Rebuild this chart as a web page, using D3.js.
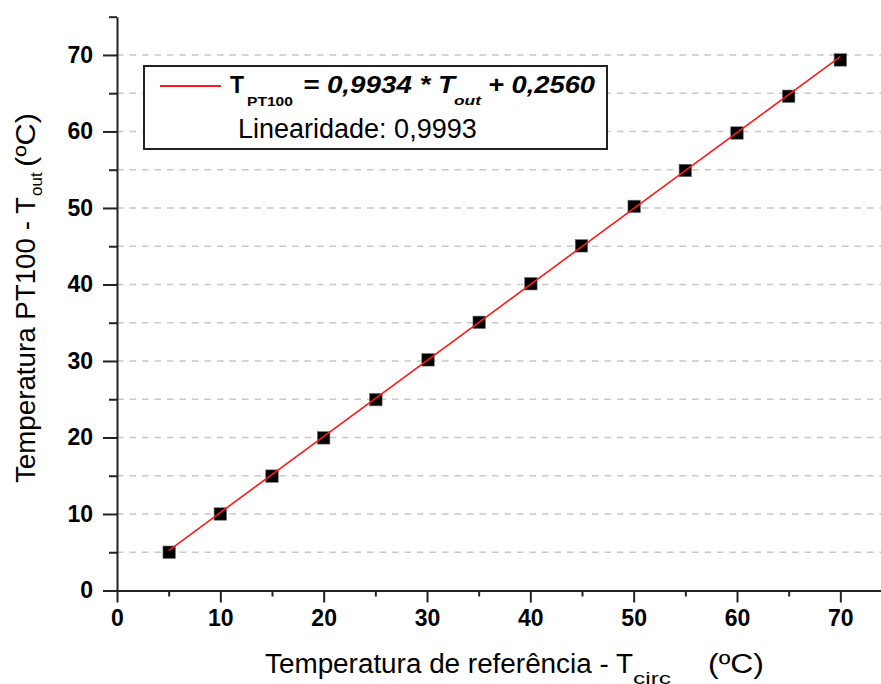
<!DOCTYPE html>
<html>
<head>
<meta charset="utf-8">
<script src="https://cdn.jsdelivr.net/npm/d3@7"></script>
<style>
  html, body { margin: 0; padding: 0; background: #fff; }
  svg { display: block; font-family: "Liberation Sans", Arial, sans-serif; }
</style>
</head>
<body>
<svg id="chart" width="881" height="684"></svg>
<script>
// Reference temperature (circulator) vs PT100 reading, both in ºC
const refTemps   = [5.05, 10.0, 15.0, 20.0, 25.05, 30.1, 35.05, 40.05, 44.95, 50.05, 55.0, 60.0, 65.0, 70.0];
const pt100Temps = [5.0, 10.0, 14.95, 19.95, 24.95, 30.15, 35.05, 40.1, 45.05, 50.2, 54.9, 59.8, 64.6, 69.35];

// Linear fit reported in the legend
const fitSlope = 0.9934;
const fitIntercept = 0.2560;
const fitRange = [5, 70];
const linearity = "0,9993";

const xDomain = [0, 75];
const yDomain = [0, 75];
const xMajorTicks = [0, 10, 20, 30, 40, 50, 60, 70];
const yMajorTicks = [0, 10, 20, 30, 40, 50, 60, 70];
const minorTicks = [5, 15, 25, 35, 45, 55, 65, 75];
const gridValues = [5, 10, 15, 20, 25, 30, 35, 40, 45, 50, 55, 60, 65, 70];

(function draw() {
  const svg = d3.select("#chart");
  const W = 881;
  const mLeft = 117, mTop = 16.7, plotW = 775, plotH = 573.8;
  const x = d3.scaleLinear().domain(xDomain).range([mLeft, mLeft + plotW]);
  const y = d3.scaleLinear().domain(yDomain).range([mTop + plotH, mTop]);
  const axisColor = "#222";

  // horizontal dashed grid
  svg.append("g").selectAll("line").data(gridValues).join("line")
    .attr("x1", x(0)).attr("x2", W)
    .attr("y1", d => y(d)).attr("y2", d => y(d))
    .attr("stroke", "#c8c8c8").attr("stroke-width", 1.6)
    .attr("stroke-dasharray", "6.5,6");

  // axes
  const styleAxis = g => {
    g.select(".domain").attr("stroke", axisColor).attr("stroke-width", 2);
    g.selectAll(".tick line").attr("stroke", axisColor).attr("stroke-width", 2);
    g.selectAll(".tick text").attr("fill", "#000")
      .style("font-size", "23px").style("font-weight", "bold")
      .style("font-family", "'Liberation Sans', Arial, sans-serif");
  };

  const xAxis = svg.append("g").attr("transform", `translate(0,${y(0)})`)
    .call(d3.axisBottom(x).tickValues(xMajorTicks).tickSize(12).tickPadding(6).tickSizeOuter(0).tickFormat(d3.format("d")))
    .call(styleAxis);
  xAxis.selectAll(".tick text").attr("dy", "0.71em").attr("y", 19);

  svg.append("g").attr("transform", `translate(0,${y(0)})`)
    .call(d3.axisBottom(x).tickValues(minorTicks).tickSize(6).tickSizeOuter(0).tickFormat(""))
    .call(g => g.select(".domain").remove())
    .call(g => g.selectAll(".tick line").attr("stroke", axisColor).attr("stroke-width", 2));

  svg.append("g").attr("transform", `translate(${x(0)},0)`)
    .call(d3.axisLeft(y).tickValues(yMajorTicks).tickSize(14).tickPadding(10).tickSizeOuter(0).tickFormat(d3.format("d")))
    .call(styleAxis);

  svg.append("g").attr("transform", `translate(${x(0)},0)`)
    .call(d3.axisLeft(y).tickValues(minorTicks).tickSize(8).tickSizeOuter(0).tickFormat(""))
    .call(g => g.select(".domain").remove())
    .call(g => g.selectAll(".tick line").attr("stroke", axisColor).attr("stroke-width", 2));

  // data markers
  const pts = refTemps.map((v, i) => ({ x: v, y: pt100Temps[i] }));
  const sq = 12.5;
  svg.append("g").selectAll("rect").data(pts).join("rect")
    .attr("x", d => x(d.x) - sq / 2).attr("y", d => y(d.y) - sq / 2)
    .attr("width", sq).attr("height", sq)
    .attr("fill", "#000").attr("stroke", "#777").attr("stroke-width", 0.6);

  // fitted line
  const fit = fitRange.map(v => ({ x: v, y: fitSlope * v + fitIntercept }));
  svg.append("path").datum(fit)
    .attr("d", d3.line().x(d => x(d.x)).y(d => y(d.y)))
    .attr("stroke", "#ff1a1a").attr("stroke-width", 1.6).attr("fill", "none");

  // legend box
  const lg = svg.append("g");
  lg.append("rect").attr("x", 144).attr("y", 66).attr("width", 463).attr("height", 83)
    .attr("fill", "#fff").attr("stroke", axisColor).attr("stroke-width", 2);
  lg.append("line").attr("x1", 160).attr("x2", 221).attr("y1", 86).attr("y2", 86)
    .attr("stroke", "#ff1a1a").attr("stroke-width", 1.8);

  const fmt = v => v.toFixed(4).replace(".", ",");
  const eq = lg.append("text").attr("fill", "#000").style("font-weight", "bold");
  eq.append("tspan").attr("x", 230).attr("y", 93).style("font-size", "23px").text("T");
  eq.append("tspan").attr("x", 247).attr("y", 106).style("font-size", "12.5px")
    .attr("textLength", 46).attr("lengthAdjust", "spacingAndGlyphs").text("PT100");
  eq.append("tspan").attr("x", 303).attr("y", 93).style("font-size", "23px").style("font-style", "italic")
    .attr("textLength", 152).attr("lengthAdjust", "spacingAndGlyphs").text(`= ${fmt(fitSlope)} * T`);
  eq.append("tspan").attr("x", 454).attr("y", 105).style("font-size", "13px").style("font-style", "italic")
    .attr("textLength", 27).attr("lengthAdjust", "spacingAndGlyphs").text("out");
  eq.append("tspan").attr("x", 488).attr("y", 93).style("font-size", "23px").style("font-style", "italic")
    .attr("textLength", 107).attr("lengthAdjust", "spacingAndGlyphs").text(`+ ${fmt(fitIntercept)}`);

  lg.append("text").attr("x", 238).attr("y", 137.5).attr("fill", "#000")
    .style("font-size", "27px").text(`Linearidade: ${linearity}`);

  // x axis title (subscript sits low, at the lower edge)
  const xt = svg.append("text").attr("fill", "#000").style("font-size", "27px");
  xt.append("tspan").attr("x", 265).attr("y", 673)
    .attr("textLength", 368).attr("lengthAdjust", "spacingAndGlyphs").text("Temperatura de referência - T");
  xt.append("tspan").attr("x", 633).attr("y", 684).style("font-size", "16px")
    .attr("textLength", 38).attr("lengthAdjust", "spacingAndGlyphs").text("circ");
  xt.append("tspan").attr("x", 708).attr("y", 673)
    .attr("textLength", 56).attr("lengthAdjust", "spacingAndGlyphs").text("(ºC)");

  // y axis title
  const yt = svg.append("text").attr("transform", "translate(35,483) rotate(-90)")
    .attr("fill", "#000").style("font-size", "27px");
  yt.append("tspan").attr("x", 0).attr("y", 0)
    .attr("textLength", 286).attr("lengthAdjust", "spacingAndGlyphs").text("Temperatura PT100 - T");
  yt.append("tspan").attr("x", 287).attr("y", 7).style("font-size", "17px").text("out");
  yt.append("tspan").attr("x", 316).attr("y", 0)
    .attr("textLength", 54).attr("lengthAdjust", "spacingAndGlyphs").text("(ºC)");
})();
</script>
</body>
</html>
